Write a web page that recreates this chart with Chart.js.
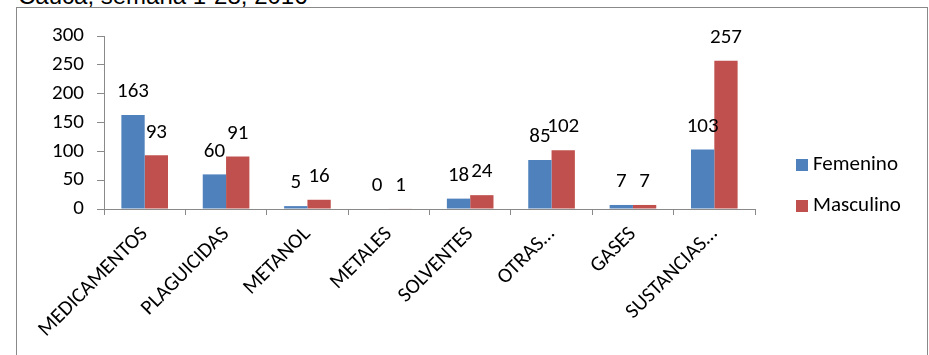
<!DOCTYPE html>
<html>
<head>
<meta charset="utf-8">
<script src="https://cdn.jsdelivr.net/npm/chart.js@4.4.0/dist/chart.umd.min.js"></script>
<style>
  html, body { margin: 0; padding: 0; background: #fff; width: 929px; height: 355px; overflow: hidden; }
  #heading { position: absolute; left: 18px; top: -16px; font: 24px "Liberation Sans", Arial, sans-serif; line-height: 24px; color: #000; white-space: nowrap; }
  #frame { position: absolute; left: 16px; top: 7px; width: 912px; height: 400px; border: 1px solid #898989; box-sizing: border-box; }
  #wrap { position: absolute; left: 0; top: 0; width: 929px; height: 355px; }
</style>
</head>
<body>
<div id="heading">Cauca, semana 1-28, 2016</div>
<div id="frame"></div>
<div id="wrap"><canvas id="c" width="929" height="355"></canvas></div>
<script>
// Intoxicaciones por grupo de sustancia y sexo
const categories = ['MEDICAMENTOS', 'PLAGUICIDAS', 'METANOL', 'METALES', 'SOLVENTES', 'OTRAS…', 'GASES', 'SUSTANCIAS…'];
const femenino = [163, 60, 5, 0, 18, 85, 7, 103];
const masculino = [93, 91, 16, 1, 24, 102, 7, 257];
const seriesNames = ['Femenino', 'Masculino'];
const yTickValues = [0, 50, 100, 150, 200, 250, 300];

const BLUE = '#4F81BD';
const RED = '#C0504D';
const AXIS = '#898989';
const FAMILY = 'Carlito, Lato, "Open Sans", sans-serif';
const FONT = { family: FAMILY, size: 21 };

// value printed above each bar
const barValues = {
  id: 'barValues',
  afterDatasetsDraw(chart) {
    const ctx = chart.ctx;
    ctx.save();
    ctx.font = `${FONT.size}px ${FONT.family}`;
    ctx.fillStyle = '#000';
    ctx.textAlign = 'center';
    ctx.textBaseline = 'middle';
    chart.data.datasets.forEach((ds, i) => {
      chart.getDatasetMeta(i).data.forEach((bar, j) => {
        ctx.fillText(String(ds.data[j]), bar.x, bar.y - 23);
      });
    });
    ctx.restore();
  }
};

// legend to the right of the plot, stacked vertically
const sideLegend = {
  id: 'sideLegend',
  afterDraw(chart) {
    const ctx = chart.ctx;
    const area = chart.chartArea;
    const x = area.right + 41;
    const rows = [area.top + 128.5, area.top + 170];
    ctx.save();
    ctx.font = `${FONT.size}px ${FONT.family}`;
    ctx.textAlign = 'left';
    ctx.textBaseline = 'middle';
    chart.data.datasets.forEach((ds, i) => {
      const cy = rows[i];
      ctx.fillStyle = ds.backgroundColor;
      ctx.fillRect(x, Math.round(cy - 6), 12, 12);
      ctx.fillStyle = '#000';
      ctx.fillText(ds.label, x + 17, cy);
    });
    ctx.restore();
  }
};

new Chart(document.getElementById('c'), {
  type: 'bar',
  data: {
    labels: categories,
    datasets: [
      { label: seriesNames[0], data: femenino, backgroundColor: BLUE },
      { label: seriesNames[1], data: masculino, backgroundColor: RED }
    ]
  },
  options: {
    responsive: false,
    devicePixelRatio: 1,
    animation: false,
    layout: { padding: { top: 36, right: 174, bottom: 0, left: 0 } },
    datasets: { bar: { categoryPercentage: 0.573, barPercentage: 1 } },
    plugins: {
      legend: { display: false },
      tooltip: { enabled: false }
    },
    scales: {
      x: {
        offset: true,
        grid: { display: true, drawOnChartArea: false, drawTicks: true, tickLength: 6, color: AXIS, offset: true },
        border: { color: AXIS, width: 1 },
        ticks: { autoSkip: false, maxRotation: 45, minRotation: 45, padding: 7, color: '#000', font: FONT },
        afterFit(scale) { scale.height = 146; }
      },
      y: {
        min: 0,
        max: 300,
        afterBuildTicks(scale) { scale.ticks = yTickValues.map(v => ({ value: v })); },
        grid: { display: true, drawOnChartArea: false, drawTicks: true, tickLength: 7, color: AXIS },
        border: { color: AXIS, width: 1 },
        ticks: { padding: 13, color: '#000', font: FONT },
        afterFit(scale) { scale.width = 104; }
      }
    }
  },
  plugins: [barValues, sideLegend]
});
</script>
</body>
</html>
